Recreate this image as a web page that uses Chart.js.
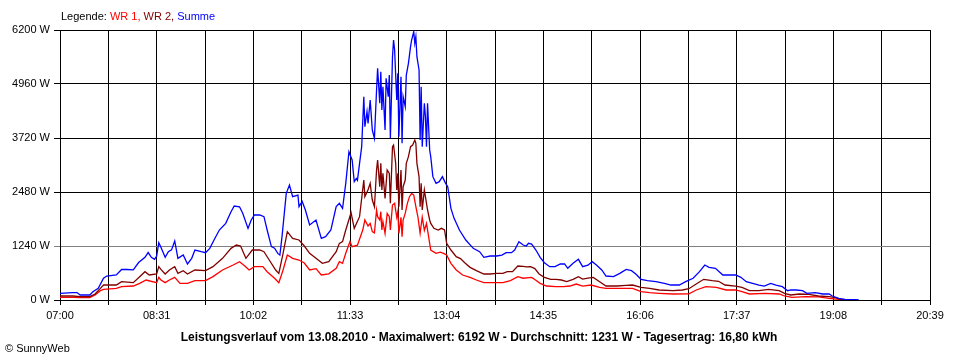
<!DOCTYPE html>
<html>
<head>
<meta charset="utf-8">
<script src="https://cdn.jsdelivr.net/npm/chart.js@4/dist/chart.umd.min.js"></script>
<style>
  html, body { margin: 0; padding: 0; background: #fff; }
  #wrap { position: relative; width: 960px; height: 360px; overflow: hidden; font-family: "Liberation Sans", Arial, sans-serif; }
  #chart { position: absolute; left: 0; top: 0; }
  .txt { position: absolute; white-space: nowrap; font-size: 11px; line-height: 13px; }
  #legend { left: 61px; top: 10px; color: #000; }
  #footer { left: 0; width: 958px; top: 330px; text-align: center; font-weight: bold; font-size: 12px; line-height: 14px; color: #000; }
  #copy { left: 5px; top: 342px; color: #000; }
</style>
</head>
<body>
<div id="wrap">
  <canvas id="chart" width="960" height="360"></canvas>
  <div id="legend" class="txt">Legende: <span style="color:#ff0000">WR 1,</span> <span style="color:#800000">WR 2,</span> <span style="color:#0000ff">Summe</span></div>
  <div id="footer" class="txt">Leistungsverlauf vom 13.08.2010 - Maximalwert: 6192 W - Durchschnitt: 1231 W - Tagesertrag: 16,80 kWh</div>
  <div id="copy" class="txt">© SunnyWeb</div>
</div>
<script>
// x tick labels (every 91 minutes from 07:00), grid every 45.5 minutes
const xTickLabels = ['07:00','08:31','10:02','11:33','13:04','14:35','16:06','17:37','19:08','20:39'];
const yTickValues = [0, 1240, 2480, 3720, 4960, 6200];

// Summe (minutes after 07:00, W)
const sumMin = [0,12,16,19,28,31,36,41,44,53,58,63,69,74,80,83,86,89,91,93,95,99,102,105,108,111,116,120,124,127,133,137,141,145,150,156,161,164,169,172,177,180,183,188,192,195,199,202,205,207,209,213,216,219,224,225,228,231,235,241,246,250,255,260,
263,266,269,272,275,277,279,280,282,284,286,287,289,290,292,294,296,298,299,301,302,303,304,306,307,309,310,311,313,314,315,317,318,319,321,322,323,325,326,328,330,331,333,334,335,336,338,339,340,341,343,344,345,346,348,349,351,354,357,360,363,365,368,371,376,382,389,395,
399,405,411,416,420,425,428,432,436,439,441,444,448,452,456,461,466,471,475,478,483,488,492,497,501,505,510,514,521,527,533,538,542,547,553,561,569,575,583,589,596,602,607,611,617,624,630,636,641,646,652,658,663,669,674,680,685,688,693,699,703,711,718,724,727,733,739,749,752];
const sumW = [150,170,170,115,115,190,270,500,550,575,700,700,690,860,980,1090,980,935,1010,1315,1210,980,1110,1150,1355,957,1033,827,957,1148,1110,1087,1186,1378,1607,1760,2028,2158,2140,1990,1645,1837,1952,1952,1913,1607,1225,1190,1070,1033,1454,2449,2640,2372,2410,2143,2260,2066,1722,1837,1416,1454,1607,2143,
2220,2105,2679,3406,3215,2717,2790,2750,3138,3521,4669,3980,4325,4057,4592,3903,3712,4822,5320,4516,5243,4363,4898,3903,5090,4669,5166,3712,5587,5970,5740,4592,5205,3750,5128,3597,4669,4440,5166,5434,5817,5970,6161,5893,6046,5587,5281,3674,4898,3521,4516,4210,3521,4516,3444,3291,2832,2679,2717,2832,2679,2602,2105,1875,1607,1378,1186,1110,
980,1010,1010,1030,1087,1087,1148,1340,1263,1240,1301,1285,1148,980,857,765,765,827,827,727,842,934,765,800,880,804,689,551,536,612,704,673,597,475,444,421,383,344,344,421,498,650,804,750,727,574,574,574,520,421,383,344,321,383,344,306,214,230,230,214,153,168,138,138,92,38,15,8,0];

// WR 2
const wr2Min = [0,12,19,28,33,38,41,53,58,69,75,80,84,91,93,95,99,103,108,111,116,120,127,137,144,153,161,166,170,175,181,188,192,197,203,206,210,214,219,225,230,235,241,247,253,260,
263,266,269,274,277,282,286,287,290,292,294,296,298,299,301,302,303,304,306,308,310,311,313,314,316,317,318,319,321,322,323,325,326,328,330,332,334,335,336,338,339,340,341,343,344,346,348,349,352,356,359,362,364,368,373,
377,381,386,392,399,405,411,417,421,426,431,436,439,443,447,451,456,462,467,472,477,483,488,492,497,502,508,514,524,533,539,547,555,564,577,586,592,600,606,614,620,626,636,642,649,658,667,677,682,688,696,705,714,724,730,735,739];
const wr2W = [92,92,77,77,138,268,344,344,421,398,536,650,574,597,765,704,597,689,765,612,673,597,689,673,765,957,1186,1263,1240,957,1148,1148,1110,918,689,612,1072,1569,1416,1378,1240,1072,957,842,880,1110,
1301,1340,1607,2005,1646,1913,2755,2373,2530,2679,2296,2143,2985,3215,2602,3138,2526,2908,2334,2985,2908,2220,3521,3559,3138,2526,2908,2143,2985,2067,2602,2755,3138,3291,3521,3559,3674,3597,3138,2832,2143,2679,2067,2526,2373,2067,1837,1760,1646,1607,1646,1607,1301,1148,995,
950,857,750,673,597,597,612,612,650,650,781,770,760,765,720,597,520,475,475,459,421,475,536,480,500,520,421,321,321,335,344,291,268,230,214,230,260,383,475,444,430,344,321,291,214,214,245,214,153,115,138,130,92,77,54,15,0];

// WR 1
const wr1Min = [0,12,19,28,33,38,41,53,58,69,75,81,91,93,95,99,103,108,113,120,127,137,144,153,163,169,174,178,183,191,195,202,206,210,214,219,225,230,235,241,246,253,260,
263,266,269,273,275,280,285,287,290,292,294,296,298,299,301,302,303,304,306,308,310,311,313,315,317,318,319,321,322,323,325,327,329,331,333,335,337,339,341,343,345,347,349,354,358,361,364,368,373,379,
386,392,399,408,417,424,431,436,444,447,452,458,467,474,480,486,492,500,508,514,524,533,539,547,555,564,577,592,599,608,618,627,636,642,649,664,677,682,689,702,714,724,733,739];
const wr1W = [61,61,54,54,115,214,245,268,306,321,383,459,398,520,459,398,459,520,383,383,444,444,536,689,804,880,780,689,765,765,650,498,398,689,1033,957,918,850,689,720,574,600,727,
880,842,1072,1340,1225,1260,1607,1837,1700,1760,1569,1540,2067,1913,1837,2028,1607,1800,1531,1990,1913,1607,2181,2220,1900,2028,1531,1900,1454,1837,1990,2220,2373,2449,2410,2143,1900,1531,1900,1600,1760,1454,1148,1072,1100,1072,1033,842,689,574,
520,459,398,398,398,444,536,500,520,470,383,321,306,306,321,367,320,344,291,268,268,268,268,191,168,153,138,140,230,306,290,230,230,191,138,150,138,92,61,77,70,38,15,0];

function pts(xs, ys) { return xs.map((x, i) => ({ x: x, y: ys[i] })); }

const gridSteps = [];
for (let i = 0; i < xTickLabels.length * 2 - 1; i++) gridSteps.push(i);

new Chart(document.getElementById('chart'), {
  type: 'line',
  data: {
    datasets: [
      { label: 'Summe', data: pts(sumMin, sumW), borderColor: '#0000ff', borderWidth: 1.3, pointRadius: 0, tension: 0, fill: false },
      { label: 'WR 2', data: pts(wr2Min, wr2W), borderColor: '#800000', borderWidth: 1.3, pointRadius: 0, tension: 0, fill: false },
      { label: 'WR 1', data: pts(wr1Min, wr1W), borderColor: '#ff0000', borderWidth: 1.3, pointRadius: 0, tension: 0, fill: false }
    ]
  },
  options: {
    responsive: false,
    animation: false,
    events: [],
    layout: { padding: { left: 0, right: 30, top: 30, bottom: 0 } },
    plugins: { legend: { display: false }, tooltip: { enabled: false }, title: { display: false } },
    scales: {
      x: {
        type: 'linear',
        min: 0,
        max: 819,
        afterBuildTicks: (scale) => { scale.ticks = gridSteps.map(i => ({ value: i * 45.5 })); },
        afterFit: (scale) => { scale.height = 60; },
        grid: { color: '#000000', lineWidth: 1, tickLength: 5, drawTicks: true },
        border: { color: '#000000', width: 1 },
        ticks: {
          autoSkip: false, maxRotation: 0, padding: 4,
          color: '#000000',
          font: { family: '"Liberation Sans", Arial, sans-serif', size: 11 },
          callback: (v, i) => (i % 2 === 0 ? xTickLabels[i / 2] : '')
        }
      },
      y: {
        min: 0,
        max: 6200,
        afterBuildTicks: (scale) => { scale.ticks = yTickValues.map(v => ({ value: v })); },
        afterFit: (scale) => { scale.width = 60; },
        grid: {
          color: (ctx) => (ctx.tick && ctx.tick.value === 1240 ? '#808080' : '#000000'),
          lineWidth: 1, tickLength: 6
        },
        border: { color: '#000000', width: 1 },
        ticks: {
          padding: 4,
          color: '#000000',
          font: { family: '"Liberation Sans", Arial, sans-serif', size: 11 },
          callback: (v) => v + ' W'
        }
      }
    }
  }
});
</script>
</body>
</html>
